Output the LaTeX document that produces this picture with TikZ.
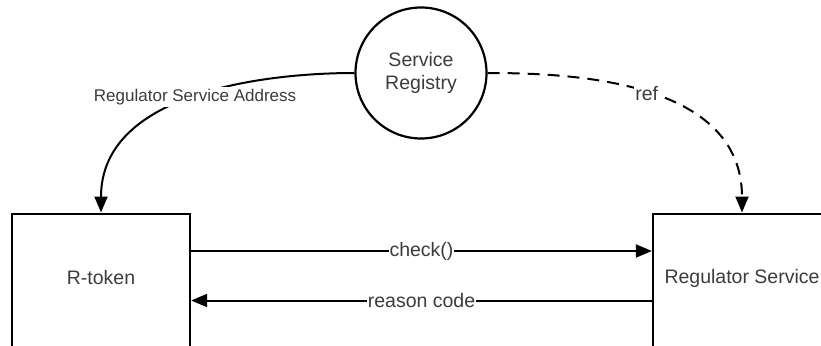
\documentclass[tikz,border=0pt]{standalone}
\usepackage{fontspec}
\setmainfont{Liberation Sans}
\usetikzlibrary{arrows.meta}
\definecolor{txt}{HTML}{3C3C3C}
\tikzset{
  x=1pt, y=-1pt,
  box/.style={draw=black, line width=2.3pt, minimum width=178pt, minimum height=150pt,
    inner sep=0pt, font=\fontsize{19.5}{23.5}\selectfont, text=txt},
  registry/.style={draw=black, line width=2.2pt, circle, minimum size=131pt,
    inner sep=0pt, align=center, font=\fontsize{19.5}{23.5}\selectfont, text=txt},
  link/.style={line width=2pt, -{Triangle[length=16pt, width=13pt]}},
  dashlink/.style={link, dash pattern=on 12pt off 8pt},
  lbl/.style={fill=white, inner sep=1pt, text=txt, font=\fontsize{19.5}{23.5}\selectfont},
  smalllbl/.style={fill=white, inner sep=2pt, text=txt, font=\fontsize{17}{20}\selectfont},
}
\begin{document}
\begin{tikzpicture}
  \useasboundingbox[fill=white] (0,0) rectangle (821,345);

  % nodes
  \node[registry] (reg) at (421,73) {Service\\Registry};
  \node[box, anchor=north] (rtok) at (101,212.5) {};
  \node[box, anchor=north] (rsvc) at (742,212.5) {};
  \node[text=txt, font=\fontsize{19.5}{23.5}\selectfont] (rtoklbl) at (101,278) {R-token};
  \node[text=txt, font=\fontsize{19.5}{23.5}\selectfont] (rsvclbl) at (742,278) {Regulator Service};

  % registry lookups
  \draw[link] (reg.west) .. controls ++(-87,0) and ([yshift=121pt]rtok.north) .. (rtok.north)
    node[pos=0.5, smalllbl] {Regulator Service Address};
  \draw[dashlink] (reg.east) .. controls ++(85,0) and ([yshift=132pt]rsvc.north) .. (rsvc.north)
    node[pos=0.5, lbl] {ref};

  % calls between the two boxes
  \coordinate (c1) at (rtok.east |- 0,251);
  \coordinate (c2) at (rsvc.west |- 0,251);
  \coordinate (r1) at (rtok.east |- 0,300.5);
  \coordinate (r2) at (rsvc.west |- 0,300.5);
  \draw[link] (c1) -- node[lbl] {check()} (c2);
  \draw[link] (r2) -- node[lbl] {reason code} (r1);
\end{tikzpicture}
\end{document}
